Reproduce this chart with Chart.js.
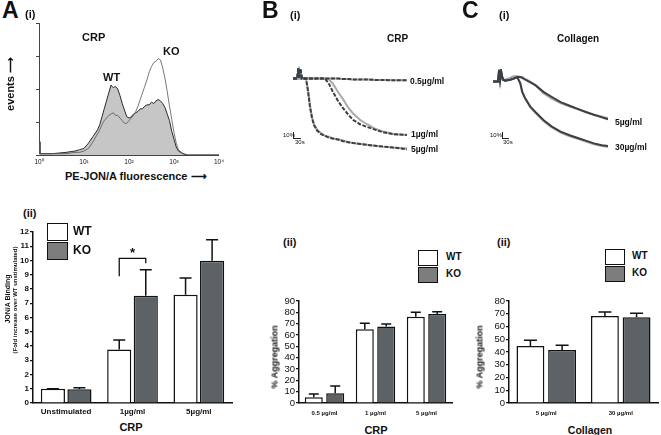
<!DOCTYPE html>
<html>
<head>
<meta charset="utf-8">
<script src="https://cdn.jsdelivr.net/npm/chart.js@4.4.1/dist/chart.umd.min.js"></script>
<style>
  body { margin: 0; background: #fff; }
  #fig { position: relative; width: 661px; height: 435px; overflow: hidden;
         font-family: "Liberation Sans", Arial, Helvetica, sans-serif; color: #111; }
  #fig canvas { position: absolute; }
  .t { position: absolute; font-weight: bold; line-height: 1; white-space: nowrap; }
  .box { position: absolute; border: 1.5px solid #111; box-sizing: border-box; }
  .scalebar { position: absolute; border-left: 1px solid #222; border-bottom: 1px solid #222; }
</style>
</head>
<body>
<div id="fig"></div>
<script>
// ---- A(i) flow histogram (x in log decades, y as fraction of axis height)
const histDecade = [0, 0.02, 0.3, 0.6, 0.8, 0.9, 1.0, 1.1, 1.2, 1.3, 1.35, 1.4, 1.45, 1.5, 1.55, 1.6, 1.65, 1.7, 1.75, 1.8, 1.85, 1.9, 1.95, 2.0, 2.05, 2.1, 2.15, 2.2, 2.25, 2.3, 2.35, 2.4, 2.45, 2.5, 2.55, 2.6, 2.65, 2.7, 2.75, 2.8, 2.85, 2.9, 2.95, 3.0, 3.05, 3.1, 3.2, 3.3, 4.0];
const histWT = [0.1, 0.01, 0.01, 0.02, 0.03, 0.04, 0.05, 0.09, 0.14, 0.19, 0.23, 0.29, 0.35, 0.41, 0.47, 0.53, 0.51, 0.52, 0.50, 0.45, 0.39, 0.34, 0.29, 0.28, 0.29, 0.31, 0.32, 0.33, 0.35, 0.35, 0.37, 0.38, 0.38, 0.40, 0.39, 0.41, 0.42, 0.41, 0.39, 0.36, 0.31, 0.26, 0.18, 0.12, 0.06, 0.03, 0.01, 0, 0];
const histKO = [0.1, 0.01, 0.01, 0.01, 0.02, 0.02, 0.03, 0.05, 0.10, 0.16, 0.19, 0.23, 0.26, 0.28, 0.30, 0.31, 0.32, 0.30, 0.30, 0.28, 0.26, 0.24, 0.24, 0.26, 0.28, 0.30, 0.33, 0.37, 0.42, 0.47, 0.52, 0.57, 0.63, 0.67, 0.70, 0.71, 0.73, 0.72, 0.66, 0.58, 0.48, 0.37, 0.27, 0.17, 0.09, 0.04, 0.01, 0, 0];
const histTicks = ['10⁰', '10¹', '10²', '10³', '10⁴'];

// ---- A(ii) JON/A binding
const jonCats = ['Unstimulated', '1µg/ml', '5µg/ml'];
const jonWT = [1.0, 3.75, 7.6];
const jonKO = [0.97, 7.52, 9.98];
const jonWTHi = [1.0, 4.42, 8.77];
const jonKOHi = [1.07, 9.35, 11.46];
const jonSig = { index: 1, top: 10.15, leftEnd: 8.9, rightEnd: 9.8, label: '*' };

// ---- B(i) aggregation traces, CRP (time s, % aggregation)
const traceTimeB = [0, 22, 26, 30, 34, 38, 44, 65, 75, 85, 95, 105, 120, 140, 160, 180, 200, 225, 250, 275, 300, 335, 370, 410, 450, 500, 570];
const crp05KO = [0, 0, -11, -1, -11, -9, 0, 0, 0, 0, 0, 0, 0, 0, 0, 0, 0, 0, 0.5, 0.5, 1, 1, 1, 1.5, 1.5, 2, 2];
const crp05WT = [0, 0, -9, 0, -9, -7, 0, 0, 0, 0, 0, 0, 0, 0, 0, 0, 0, 0, 0.5, 0.5, 1, 1, 1, 1.5, 1.5, 2, 2];
const crp1KO = [0, 0, -11, -1, -11, -9, 0, 0, 0, 0, 0, 0, 0, 0, 0, 6, 15, 25, 33, 40, 46, 51, 54, 57, 60, 62, 63];
const crp1WT = [0, 0, -9, 0, -9, -7, 0, 0, 0, 0, 0, 0, 0, 0, 0, 1, 6, 15, 23, 32, 39, 46, 51, 56, 59, 62, 63];
const crp5KO = [0, 0, -11, -1, -11, -9, 0, 0, 14, 32, 44, 52, 58, 62, 64, 66, 67, 68, 70, 71, 72, 73, 74, 75, 76, 77, 79];
const crp5WT = [0, 0, -9, 0, -9, -7, 0, 0, 12, 30, 43, 51, 57, 61, 64, 65, 67, 68, 69, 71, 72, 73, 74, 75, 76, 77, 78];

// ---- C(i) aggregation traces, collagen
const traceTimeC = [0, 25, 30, 35, 40, 45, 50, 60, 85, 100, 120, 135, 145, 160, 185, 210, 250, 290, 335, 380, 420, 460, 500, 540, 570];
const col30KO = [0, 0, -13, -2, -12, -6, -2, -1, -2, -3, -5, 2, 12, 19, 28, 34, 43, 50, 56, 60, 63, 66, 69, 71, 72];
const col30WT = [0, 0, -4, -1, -4, -3, -2, -2, -3, -4, -5, 1, 11, 19, 29, 35, 44, 51, 57, 61, 64, 67, 70, 72, 73];
const col5KO = [0, 0, -13, -2, -12, -6, -2, -1, -2, -3, -5, -5, -4, -2, 1, 4, 11.5, 17, 23, 27, 30.5, 34, 37, 40, 42];
const col5WT = [0, 0, -4, -1, -4, -3, -2, -2, -4, -6, -6, -5, -5, -3, 0, 4, 13, 19, 24, 28, 31, 34, 37, 39, 41];

// ---- B(ii) CRP aggregation
const crpCats = ['0.5 µg/ml', '1 µg/ml', '5 µg/ml'];
const crpWT = [5, 65, 76.2];
const crpKO = [8.5, 67.4, 78.5];
const crpWTHi = [7.9, 70.3, 80];
const crpKOHi = [15, 69.7, 80.6];

// ---- C(ii) collagen aggregation
const colCats = ['5 µg/ml', '30 µg/ml'];
const colWT = [44.7, 68.2];
const colKO = [41.6, 67.2];
const colWTHi = [49.2, 71.4];
const colKOHi = [45.2, 70.3];

const groups = ['WT', 'KO'];

const FONT = '"Liberation Sans", Arial, Helvetica, sans-serif';
const KO_FILL = '#5d6267';
const KO_LEGEND = '#7d7d7d';
const DARK = '#3a4046';
const LIGHT = '#a9a9a9';

Chart.defaults.font.family = FONT;
Chart.defaults.color = '#111';
Chart.defaults.animation = false;
Chart.defaults.responsive = false;
Chart.defaults.plugins.legend.display = false;
Chart.defaults.plugins.tooltip.enabled = false;
Chart.defaults.elements.point.radius = 0;
Chart.defaults.elements.line.tension = 0;

const fig = document.getElementById('fig');

function panelCanvas(left, top, w, h) {
  const c = document.createElement('canvas');
  c.width = w; c.height = h;
  c.style.left = left + 'px'; c.style.top = top + 'px';
  c.style.width = w + 'px'; c.style.height = h + 'px';
  fig.appendChild(c);
  return c.getContext('2d');
}

function txt(s, left, top, size, extra) {
  const d = document.createElement('div');
  d.className = 't';
  d.textContent = s;
  d.style.left = left + 'px';
  d.style.top = top + 'px';
  d.style.fontSize = size + 'px';
  if (extra) Object.assign(d.style, extra);
  fig.appendChild(d);
  return d;
}

// text centred on (cx, cy), rotated to read bottom-to-top
function vtxt(s, cx, cy, size, weight) {
  return txt(s, cx, cy, size, { transform: 'translate(-50%,-50%) rotate(-90deg)', fontWeight: weight || 'bold' });
}

function ctxt(s, cx, top, size) {
  return txt(s, cx, top, size, { transform: 'translateX(-50%)' });
}

function legend(left, top, w, h, step, textLeft, size, textTop) {
  const fills = ['#fff', KO_LEGEND];
  groups.forEach((g, i) => {
    const b = document.createElement('div');
    b.className = 'box';
    Object.assign(b.style, { left: left + 'px', top: (top + i * step) + 'px', width: w + 'px', height: h + 'px', background: fills[i] });
    fig.appendChild(b);
    txt(g, textLeft, textTop + i * step, size);
  });
}

function scaleBar(left, top, w, h) {
  const d = document.createElement('div');
  d.className = 'scalebar';
  Object.assign(d.style, { left: left + 'px', top: top + 'px', width: w + 'px', height: h + 'px' });
  fig.appendChild(d);
}

// error bars: line from bar top to dataset.errorUpper value, with a cap
const errorBars = {
  id: 'errorBars',
  afterDatasetsDraw(chart, args, opts) {
    const { ctx } = chart;
    const y = chart.scales.y;
    ctx.save();
    ctx.strokeStyle = '#111';
    ctx.lineWidth = 1.5;
    chart.data.datasets.forEach((ds, i) => {
      chart.getDatasetMeta(i).data.forEach((bar, j) => {
        const yt = y.getPixelForValue(ds.errorUpper[j]);
        ctx.beginPath();
        ctx.moveTo(bar.x, bar.y);
        ctx.lineTo(bar.x, yt);
        ctx.moveTo(bar.x - opts.cap / 2, yt);
        ctx.lineTo(bar.x + opts.cap / 2, yt);
        ctx.stroke();
      });
    });
    ctx.restore();
  }
};

// significance bracket between WT and KO bars of one category
const sigBracket = {
  id: 'sigBracket',
  afterDatasetsDraw(chart, args, o) {
    if (!o || o.index === undefined) return;
    const { ctx } = chart;
    const y = chart.scales.y;
    const a = chart.getDatasetMeta(0).data[o.index];
    const b = chart.getDatasetMeta(1).data[o.index];
    const yt = y.getPixelForValue(o.top);
    ctx.save();
    ctx.strokeStyle = '#111';
    ctx.lineWidth = 1.3;
    ctx.beginPath();
    ctx.moveTo(a.x, y.getPixelForValue(o.leftEnd));
    ctx.lineTo(a.x, yt);
    ctx.lineTo(b.x, yt);
    ctx.lineTo(b.x, y.getPixelForValue(o.rightEnd));
    ctx.stroke();
    ctx.fillStyle = '#111';
    ctx.font = 'bold 13px ' + FONT;
    ctx.textAlign = 'center';
    ctx.textBaseline = 'alphabetic';
    ctx.fillText(o.label, (a.x + b.x) / 2, yt - 1);
    ctx.restore();
  }
};

function barPanel(g, cats, wt, ko, wtHi, koHi, yMax, step, tickFont, labelFont, cap, sig) {
  const ctx = panelCanvas(g.left, g.top, g.w, g.h);
  return new Chart(ctx, {
    type: 'bar',
    data: {
      labels: cats,
      datasets: [
        { label: 'WT', data: wt, errorUpper: wtHi, backgroundColor: '#fff', borderColor: '#111', borderWidth: 1.5 },
        { label: 'KO', data: ko, errorUpper: koHi, backgroundColor: KO_FILL, borderColor: '#111', borderWidth: 1.5 }
      ]
    },
    options: {
      devicePixelRatio: 1,
      layout: { padding: { top: g.padTop, right: g.padRight, left: 0, bottom: 0 } },
      datasets: { bar: { categoryPercentage: g.cp, barPercentage: g.bp } },
      scales: {
        x: {
          grid: { display: false, drawTicks: false },
          border: { color: '#111', width: 1.5 },
          ticks: { font: labelFont, padding: g.xPad, maxRotation: 0, autoSkip: false },
          afterFit(s) { s.height = g.xH; }
        },
        y: {
          min: 0, max: yMax,
          ticks: { stepSize: step, font: tickFont, padding: 1, autoSkip: false },
          grid: { drawOnChartArea: false, tickLength: 3, color: '#111', lineWidth: 1.2 },
          border: { color: '#111', width: 1.5 },
          afterFit(s) { s.width = g.yW; }
        }
      },
      plugins: { errorBars: { cap: cap }, sigBracket: sig || {} }
    },
    plugins: [errorBars, sigBracket]
  });
}

function tracePanel(left, top, w, h, time, series) {
  return new Chart(panelCanvas(left, top, w, h), {
    type: 'line',
    data: {
      datasets: series.map(s => ({
        data: time.map((t, i) => ({ x: t, y: s.values[i] })),
        borderColor: s.color, borderWidth: 2, borderDash: s.dash || [], fill: false
      }))
    },
    options: {
      devicePixelRatio: 1,
      layout: { padding: 2 },
      scales: {
        x: { type: 'linear', display: false, min: 0, max: 570 },
        y: { display: false, min: -14, max: 82, reverse: true }
      }
    }
  });
}

// ---------- A(i) histogram
new Chart(panelCanvas(30, 15, 197, 154), {
  type: 'line',
  data: {
    datasets: [
      { label: 'KO', data: histDecade.map((d, i) => ({ x: d, y: histKO[i] })), borderColor: '#555', borderWidth: 0.8, fill: false },
      { label: 'WT', data: histDecade.map((d, i) => ({ x: d, y: histWT[i] })), borderColor: '#2a2a2a', borderWidth: 1, backgroundColor: '#c6c6c6', fill: 'origin' }
    ]
  },
  options: {
    devicePixelRatio: 1,
    layout: { padding: { top: 8, right: 6, left: 0, bottom: 0 } },
    scales: {
      x: {
        type: 'linear', min: 0, max: 4,
        ticks: { stepSize: 1, callback: v => histTicks[v], font: { size: 6.5 }, padding: 3, maxRotation: 0 },
        grid: { display: false, drawTicks: false },
        border: { color: '#444', width: 1 },
        afterFit(s) { s.height = 14; }
      },
      y: {
        min: 0, max: 1,
        ticks: { stepSize: 0.25, display: false },
        grid: { drawOnChartArea: false, tickLength: 3, color: '#444' },
        border: { color: '#444', width: 1 },
        afterFit(s) { s.width = 9; }
      }
    }
  }
});

// ---------- B(i), C(i) traces (dark KO drawn on top of grey WT)
tracePanel(291, 64, 118, 90, traceTimeB, [
  { values: crp05KO, color: DARK, dash: [4, 1.5] },
  { values: crp1KO, color: DARK, dash: [4, 1.5] },
  { values: crp5KO, color: DARK, dash: [4, 1.5] },
  { values: crp05WT, color: LIGHT },
  { values: crp1WT, color: LIGHT },
  { values: crp5WT, color: LIGHT }
]);
tracePanel(491, 67, 119, 90, traceTimeC, [
  { values: col5KO, color: DARK },
  { values: col30KO, color: DARK },
  { values: col5WT, color: LIGHT },
  { values: col30WT, color: LIGHT }
]);

// ---------- bar charts
barPanel({ left: 3, top: 222, w: 232, h: 197, yW: 30, xH: 16, padTop: 10, padRight: 3, cp: 0.8, bp: 0.91, xPad: 4 },
  jonCats, jonWT, jonKO, jonWTHi, jonKOHi, 12, 1,
  { size: 8, weight: 'bold' }, { size: 8, weight: 'bold' }, 12, jonSig);
barPanel({ left: 270, top: 292, w: 186, h: 127, yW: 29, xH: 16, padTop: 9, padRight: 4, cp: 0.84, bp: 0.84, xPad: 7 },
  crpCats, crpWT, crpKO, crpWTHi, crpKOHi, 90, 10,
  { size: 9.5 }, { size: 6, weight: 'bold' }, 10, null);
barPanel({ left: 480, top: 292, w: 181, h: 127, yW: 29, xH: 16, padTop: 9, padRight: 3, cp: 0.85, bp: 0.88, xPad: 7 },
  colCats, colWT, colKO, colWTHi, colKOHi, 80, 10,
  { size: 9.5 }, { size: 6, weight: 'bold' }, 13, null);

// ---------- panel letters and labels
txt('A', 2, -1, 23);
txt('(i)', 25, 9, 11);
txt('B', 262, -1, 23);
txt('(i)', 290, 10, 11);
txt('C', 462, -1, 23);
txt('(i)', 499, 10, 11);

txt('CRP', 82, 32, 11);
txt('KO', 163, 46, 11);
txt('WT', 103, 72, 11);
vtxt('events \u27F6', 10, 84, 11);
txt('PE-JON/A fluorescence \u27F6', 65, 171, 11);

txt('CRP', 387, 34, 10);
txt('Collagen', 557, 34, 10);
txt('0.5µg/ml', 410, 77, 8.5);
txt('1µg/ml', 411, 130, 8.5);
txt('5µg/ml', 411, 145, 8.5);
txt('5µg/ml', 615, 118, 8.5);
txt('30µg/ml', 615, 143, 8.5);

txt('10%', 283, 132, 6, { fontWeight: 'normal' });
scaleBar(293, 132, 7, 6);
txt('30s', 295, 139, 6, { fontWeight: 'normal' });
txt('10%', 490, 132, 6, { fontWeight: 'normal' });
scaleBar(502, 132, 6, 6);
txt('30s', 503, 139, 6, { fontWeight: 'normal' });

txt('(ii)', 23, 208, 11);
txt('(ii)', 283, 237, 11);
txt('(ii)', 497, 237, 11);

legend(47, 223, 21, 18, 19, 73, 12, 225);
legend(418, 250, 20, 16, 17, 446, 10, 252);
legend(605, 249, 20, 16, 17, 632, 10, 251);

vtxt('JON/A Binding', 7, 299, 7);
vtxt('(Fold increase over WT unstimulated)', 15, 300, 6);
ctxt('CRP', 131, 422, 11);
vtxt('% Aggregation', 275, 357, 9);
ctxt('CRP', 376, 425, 11);
vtxt('% Aggregation', 480, 357, 9);
ctxt('Collagen', 590, 425, 10.5);
</script>
</body>
</html>
